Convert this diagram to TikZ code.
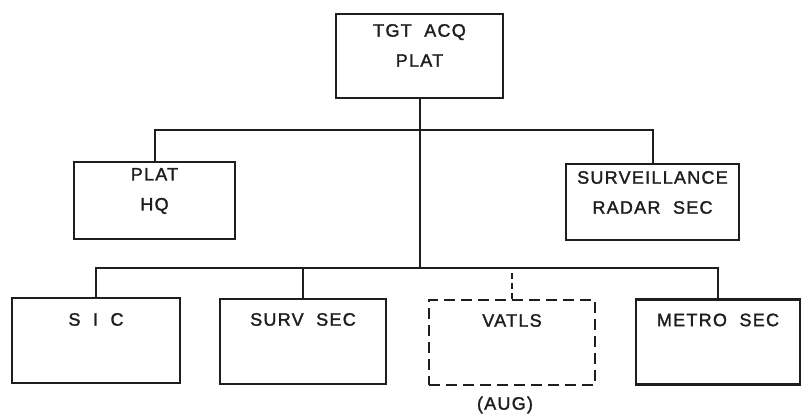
\documentclass[tikz,border=0pt]{standalone}
\usepackage{fontspec}
\setmainfont{Liberation Sans}[LetterSpace=7, WordSpace=2, FakeBold=1.6]
\definecolor{ink}{HTML}{1E1E1E}
\usetikzlibrary{positioning}

\begin{document}
\begin{tikzpicture}[x=1pt, y=-1pt,
  unit/.style={draw=ink, line width=2.2pt, minimum width=166pt,
    minimum height=85pt, inner sep=0pt},
  aug/.style={unit, dash pattern=on 11pt off 6pt},
  lbl/.style={anchor=north, inner sep=0pt, align=center,
    font=\fontsize{18}{30}\selectfont, text=ink},
  link/.style={draw=ink, line width=2pt}]
\useasboundingbox (0,0) rectangle (801,416);
% top of the chart
\node[unit, minimum width=167pt, minimum height=84pt,
  label={[lbl, yshift=-11pt]north:TGT ACQ\\PLAT}] (tgt) at (419.5,56) {};
% second row
\node[unit, minimum width=161pt, minimum height=77pt,
  label={[lbl, yshift=-7pt]north:PLAT\\HQ}] (hq) at (154.5,200.5) {};
\node[unit, minimum width=173pt, minimum height=76pt,
  label={[lbl, yshift=-8pt]north:SURVEILLANCE\\RADAR SEC}] (radar) at (652.5,202) {};
% sections
\node[unit, minimum width=168pt, label={[lbl, yshift=-16pt]north:S I C}] (sic) at (96,340.5) {};
\node[unit, label={[lbl, yshift=-15pt]north:SURV SEC}] (surv) at (303,341.5) {};
\node[aug, label={[lbl, yshift=-15pt]north:VATLS}] (vatls) at (512,342.5) {};
\node[unit, minimum width=164pt, label={[lbl, yshift=-15pt]north:METRO SEC}] (metro) at (718,342) {};
\node[lbl, anchor=center] (augnote) at (505,405) {(AUG)};
% lines
\coordinate (upbus) at (414,130);
\coordinate (lowbus) at (414,268);
\draw[link] (tgt.south) -- (tgt.south |- lowbus);
\draw[link] (hq.north) |- (upbus) -| (radar.north);
\draw[link] (sic.north) |- (lowbus) -| (metro.north);
\draw[link] (surv.north) -- (surv.north |- lowbus);
\draw[link, dash pattern=on 6pt off 4pt] (vatls.north) -- (vatls.north |- lowbus);
\end{tikzpicture}
\end{document}
